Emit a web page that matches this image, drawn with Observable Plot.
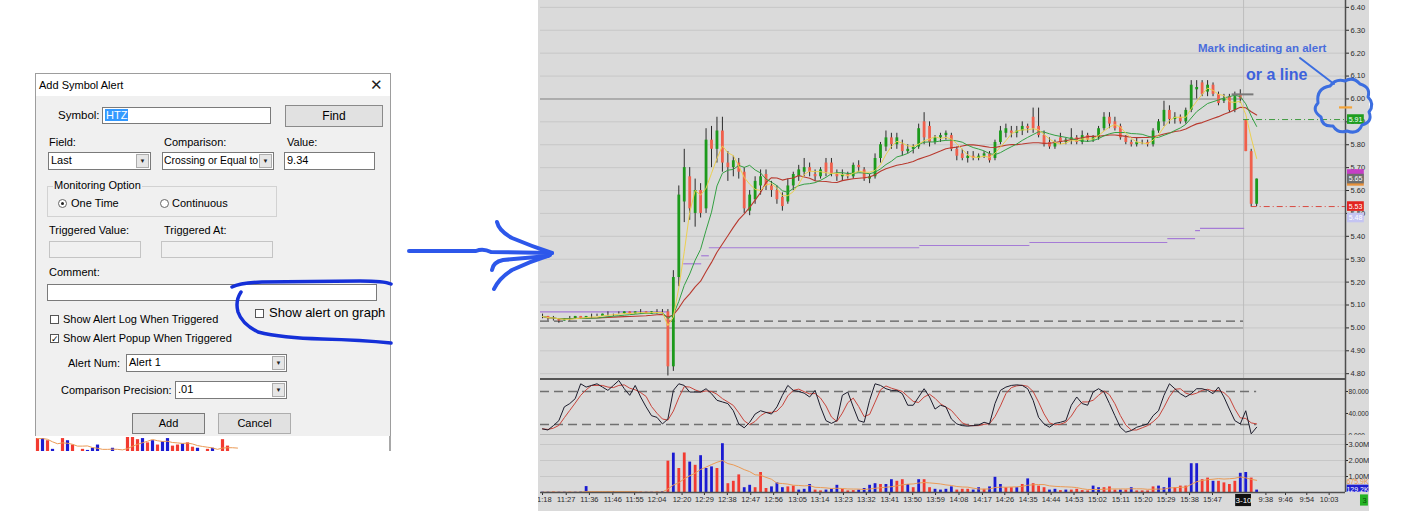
<!DOCTYPE html>
<html>
<head>
<meta charset="utf-8">
<script src="https://cdn.jsdelivr.net/npm/d3@7"></script>
<script src="https://cdn.jsdelivr.net/npm/@observablehq/plot@0.6"></script>
<style>
  body{margin:0;width:1420px;height:511px;position:relative;overflow:hidden;background:#fff;font-family:"Liberation Sans",Arial,sans-serif;}
  .a{position:absolute;}
  #dlg{left:35px;top:73px;width:354px;height:362px;background:#f0f0f0;border:1px solid #9d9d9d;font-size:11px;color:#000;}
  #dlg .t{left:0;top:0;width:354px;height:22px;background:#fff;}
  #dlg .t span{position:absolute;left:3px;top:5px;}
  #dlg .x{right:7px;top:2px;font-size:15px;color:#222;}
  .l{white-space:nowrap;line-height:13px;}
  .in{background:#fff;border:1px solid #7a7a7a;box-sizing:border-box;line-height:15px;padding-left:2px;white-space:nowrap;overflow:hidden;}
  .in .hl{background:#3399ff;color:#fff;padding:0 1px;}
  .dis{background:#f0f0f0;border:1px solid #c4c4c4;box-sizing:border-box;}
  .btn{background:#e1e1e1;border:1px solid #adadad;box-sizing:border-box;text-align:center;}
  .arr{position:absolute;right:1px;top:1px;bottom:1px;width:13px;background:#e6e6e6;border:1px solid #acacac;box-sizing:border-box;font-size:6px;text-align:center;line-height:12px;color:#222;}
  .cb{width:9px;height:9px;border:1px solid #555;background:#fff;box-sizing:border-box;font-size:9px;line-height:8px;text-align:center;}
  .rb{width:9px;height:9px;border:1px solid #666;border-radius:50%;background:#fff;box-sizing:border-box;}
  .rb i{position:absolute;left:2px;top:2px;width:3px;height:3px;border-radius:50%;background:#222;}
  .grp{border:1px solid #d2d2d2;box-sizing:border-box;}
  #strip{left:35px;top:436px;width:354px;height:15px;background:#fff;border-right:2px solid #a8a8a8;}
  #chart{left:538px;top:0;width:831px;height:511px;background:#dadada;}
  #chart svg{display:block;}
  #ink{left:0;top:0;pointer-events:none;}
</style>
</head>
<body>

<div id="dlg" class="a">
  <div class="a t"><span>Add Symbol Alert</span></div>
  <div class="a x">✕</div>
  <div class="a l" style="left:22px;top:35px;font-size:11.5px">Symbol:</div>
  <div class="a in" style="left:66px;top:33px;width:169px;height:17px"><span class="hl">HTZ</span></div>
  <div class="a btn" style="left:249px;top:31px;width:98px;height:22px;line-height:20px;font-size:12px;border-color:#8a8a8a">Find</div>

  <div class="a l" style="left:13px;top:62px">Field:</div>
  <div class="a l" style="left:128px;top:62px">Comparison:</div>
  <div class="a l" style="left:251px;top:62px">Value:</div>
  <div class="a in" style="left:12px;top:78px;width:103px;height:18px">Last<div class="arr">▼</div></div>
  <div class="a in" style="left:126px;top:78px;width:112px;height:18px;font-size:10.4px;padding-left:1px">Crossing or Equal to<div class="arr">▼</div></div>
  <div class="a in" style="left:248px;top:78px;width:91px;height:18px">9.34</div>

  <div class="a grp" style="left:11px;top:112px;width:230px;height:31px"></div>
  <div class="a l" style="left:17px;top:105px;background:#f0f0f0;padding:0 1px">Monitoring Option</div>
  <div class="a rb" style="left:22px;top:125px"><i></i></div>
  <div class="a l" style="left:35px;top:123px">One Time</div>
  <div class="a rb" style="left:124px;top:125px"></div>
  <div class="a l" style="left:136px;top:123px">Continuous</div>

  <div class="a l" style="left:13px;top:150px">Triggered Value:</div>
  <div class="a l" style="left:128px;top:150px">Triggered At:</div>
  <div class="a dis" style="left:13px;top:167px;width:92px;height:17px"></div>
  <div class="a dis" style="left:125px;top:167px;width:112px;height:17px"></div>

  <div class="a l" style="left:13px;top:192px">Comment:</div>
  <div class="a in" style="left:11px;top:210px;width:330px;height:17px"></div>

  <div class="a cb" style="left:219px;top:235px"></div>
  <div class="a l" style="left:233px;top:232px;font-size:13px">Show alert on graph</div>

  <div class="a cb" style="left:14px;top:241px"></div>
  <div class="a l" style="left:27px;top:239px">Show Alert Log When Triggered</div>
  <div class="a cb" style="left:14px;top:260px">✓</div>
  <div class="a l" style="left:27px;top:258px">Show Alert Popup When Triggered</div>

  <div class="a l" style="left:32px;top:283px">Alert Num:</div>
  <div class="a in" style="left:90px;top:280px;width:161px;height:18px">Alert 1<div class="arr">▼</div></div>
  <div class="a l" style="left:25px;top:310px">Comparison Precision:</div>
  <div class="a in" style="left:139px;top:307px;width:112px;height:18px">.01<div class="arr">▼</div></div>

  <div class="a btn" style="left:96px;top:339px;width:73px;height:21px;line-height:19px;border-color:#7a7a7a">Add</div>
  <div class="a btn" style="left:182px;top:339px;width:73px;height:21px;line-height:19px">Cancel</div>
</div>

<div id="strip" class="a"></div>
<div id="chart" class="a"></div>

<svg id="ink" class="a" width="1420" height="511">
  <g fill="none" stroke-linecap="round" stroke-linejoin="round">
    <!-- hand drawn ring round the check box -->
    <path d="M232,287 Q240,283 262,282 L360,281 Q384,281 391,284" stroke="#1530d8" stroke-width="3.5"/>
    <path d="M241,292 Q235,301 238,312 Q242,324 258,332 Q282,338 322,339 Q362,340 391,343" stroke="#1530d8" stroke-width="3.5"/>
    <!-- arrow -->
    <g stroke="#2d57ea" stroke-width="4">
      <path d="M409,251 L476,251 Q483,248 491,252 L552,253"/>
      <path d="M497,222 Q499,231 512,238 Q531,246 552,253"/>
      <path d="M494,289 Q499,278 512,270 Q531,261 550,255"/>
      <path d="M492,270 Q493,262 503,260 L548,256"/>
    </g>
    <!-- cloud and pointer -->
    <path d="M1300,58 L1334,84" stroke="#3c6ee0" stroke-width="2"/>
    <path d="M1330,86 Q1336,78 1345,81 Q1353,76 1360,84 Q1371,87 1368,97 Q1375,104 1369,112 Q1373,122 1362,125 Q1358,135 1347,131 Q1338,134 1333,126 Q1322,127 1321,117 Q1311,110 1318,103 Q1316,88 1330,86 Z" stroke="#3c6ee0" stroke-width="3"/>
  </g>
  <text x="1198" y="52" fill="#4a6ddc" font-size="11.5" font-weight="bold" font-family="Liberation Sans, Arial">Mark indicating an alert</text>
  <text x="1246" y="80" fill="#3d62dc" font-size="16" font-weight="bold" font-family="Liberation Sans, Arial">or a line</text>
</svg>

<script>
// ---- price bars (one per slot) ----
const open = [5.05,5.05,5.04,5.04,5.03,5.04,5.04,5.05,5.04,5.05,5.05,5.05,5.06,5.06,5.06,5.06,5.07,5.06,5.07,5.07,5.06,5.07,5.07,
  5.07,4.83,5.22,5.55,5.66,5.50,5.60,5.52,5.82,5.78,5.86,5.72,5.70,5.72,5.68,5.51,5.56,5.62,5.67,5.62,5.60,5.57,5.55,5.62,5.66,5.68,5.70,5.67,5.66,5.72,5.72,5.67,5.66,5.67,5.66,5.71,5.69,5.65,5.66,5.74,5.79,5.83,5.80,
  5.80,5.77,5.78,5.79,5.90,5.88,5.81,5.83,5.84,5.84,5.78,5.76,5.74,5.75,5.74,5.75,5.76,5.74,5.81,5.85,5.86,5.85,5.86,5.88,5.92,5.88,5.84,5.81,5.79,5.83,5.81,5.82,5.83,5.81,5.84,5.82,5.83,5.87,5.92,5.90,5.88,5.83,5.81,5.80,5.81,
  5.81,5.80,5.86,5.90,5.95,5.91,5.92,5.90,5.95,6.04,6.07,6.03,6.06,6.02,5.99,6.01,5.95,6.02,
  5.91,5.77,5.54];
const high = [5.06,5.05,5.05,5.04,5.04,5.05,5.05,5.05,5.05,5.06,5.06,5.06,5.07,5.06,5.07,5.07,5.07,5.07,5.08,5.07,5.07,5.08,5.08,
  5.08,5.25,5.62,5.78,5.70,5.65,5.63,5.87,5.88,5.92,5.92,5.77,5.75,5.74,5.70,5.60,5.66,5.69,5.69,5.64,5.62,5.59,5.65,5.68,5.71,5.74,5.72,5.69,5.70,5.74,5.74,5.69,5.69,5.68,5.72,5.73,5.70,5.67,5.76,5.81,5.86,5.85,5.85,
  5.82,5.80,5.80,5.89,5.94,5.90,5.84,5.85,5.86,5.85,5.79,5.78,5.77,5.77,5.76,5.77,5.77,5.82,5.88,5.89,5.88,5.88,5.90,5.89,5.96,5.96,5.86,5.83,5.82,5.85,5.83,5.87,5.84,5.86,5.85,5.84,5.88,5.94,5.94,5.92,5.89,5.84,5.82,5.83,5.82,
  5.82,5.87,5.91,5.99,5.97,5.94,5.93,5.96,6.08,6.08,6.08,6.08,6.07,6.03,6.02,6.02,6.03,6.04,
  5.91,5.78,5.65];
const low = [5.04,5.03,5.03,5.02,5.03,5.03,5.04,5.04,5.04,5.04,5.05,5.05,5.05,5.05,5.06,5.06,5.06,5.06,5.06,5.06,5.06,5.06,5.06,
  4.79,4.81,5.18,5.46,5.47,5.44,5.48,5.50,5.70,5.72,5.68,5.64,5.66,5.65,5.50,5.49,5.54,5.58,5.60,5.57,5.54,5.51,5.54,5.60,5.64,5.66,5.66,5.64,5.65,5.66,5.66,5.64,5.64,5.65,5.65,5.68,5.64,5.63,5.65,5.72,5.77,5.78,5.78,
  5.75,5.76,5.76,5.78,5.80,5.79,5.80,5.81,5.82,5.77,5.73,5.73,5.72,5.73,5.73,5.74,5.72,5.73,5.80,5.83,5.83,5.83,5.84,5.85,5.85,5.83,5.79,5.78,5.78,5.80,5.80,5.80,5.80,5.80,5.81,5.81,5.82,5.86,5.87,5.86,5.82,5.80,5.79,5.79,5.80,
  5.79,5.79,5.85,5.88,5.89,5.89,5.89,5.89,5.94,6.00,6.01,6.01,6.01,5.97,5.98,5.94,5.94,5.98,
  5.77,5.53,5.53];
const close = [5.05,5.04,5.04,5.03,5.04,5.04,5.05,5.04,5.05,5.05,5.05,5.06,5.06,5.06,5.06,5.07,5.06,5.07,5.07,5.06,5.07,5.07,5.07,
  4.83,5.22,5.58,5.70,5.52,5.60,5.50,5.82,5.78,5.86,5.72,5.70,5.73,5.68,5.52,5.58,5.64,5.66,5.62,5.60,5.56,5.53,5.62,5.67,5.69,5.70,5.68,5.66,5.69,5.68,5.67,5.66,5.67,5.66,5.71,5.70,5.65,5.66,5.74,5.80,5.83,5.80,5.83,
  5.77,5.78,5.79,5.87,5.83,5.81,5.83,5.84,5.85,5.78,5.75,5.74,5.75,5.74,5.75,5.76,5.73,5.81,5.86,5.87,5.85,5.86,5.88,5.87,5.87,5.84,5.80,5.79,5.81,5.81,5.82,5.83,5.81,5.84,5.82,5.83,5.87,5.92,5.89,5.87,5.83,5.81,5.80,5.81,5.81,
  5.80,5.86,5.90,5.95,5.91,5.92,5.90,5.95,6.06,6.05,6.02,6.06,6.02,5.98,6.00,5.95,6.01,6.00,
  5.77,5.54,5.65];

// stochastic %K
const stochK = [12,10,18,27,52,58,67,94,88,91, 94,88,82,91,100,85,73,91,70,52, 36,33,21,30,82,94,91,79,79,79,
  85,76,64,61,58,45,21,14,24,39, 45,42,39,52,73,91,82,80,77,70, 82,52,27,22,27,73,79,52,27,24,
  64,94,91,85,82,82,76,55,55,70, 85,70,48,55,52,30,21,18,17,18, 19,24,21,58,82,88,91,92,91,85,
  64,33,21,15,22,24,27,55,70,58, 55,79,85,79,58,36,15,6,9,15, 18,21,36,45,73,94,85,76,70,76,
  85,85,82,76,88,70,48,27,21,45, 3,15];

// volume (millions) and side: b = blue, r = red
const volume = [0.02,0.02,0.03,0.02,0.02,0.02,0.02,0.03,0.37,0.02, 0.02,0.02,0.03,0.06,0.02,0.02,0.02,0.02,0.03,0.02, 0.02,0.03,0.05,
  1.96,2.46,1.5,2.47,1.9,1.7,2.3,1.5,1.6,1.5, 3.05,0.55,0.7,1.1,0.3,0.45,0.3,1.25,0.25,0.35,
  0.6,0.3,0.35,0.4,0.15,0.2,0.5,0.15,0.1,0.15, 0.2,0.45,0.2,0.1,0.12,0.15,0.25,0.45,0.55,0.5, 0.5,0.8,0.7,0.8,0.5,0.3,0.8,
  0.8,0.3,0.2,0.15,0.2,0.35,0.15,0.2,0.2,0.15, 0.3,0.2,0.35,0.95,0.5,0.3,0.3,0.3,0.5,0.85,
  0.55,0.4,0.3,0.15,0.2,0.12,0.15,0.15,0.2,0.12, 0.1,0.4,0.3,0.3,0.35,0.15,0.15,0.15,0.3,0.1,
  0.1,0.1,0.35,0.4,0.3,0.9,0.3,0.4,0.4,1.8, 1.8,0.8,0.9,0.7,0.7,0.6,0.5,0.7,1.2,1.25, 0.9,0.15];
const volSide = ["bbrbbrbbbr","brbbrbbbrb","brb",
  "rbrrbrbbbr","brrrbbrrrb","bbrrbbbrrb","bbrrrbbbbr","bbrrbrb",
  "rrbbbbrrrb","brbbbrrbrb","rrrbbrbrrr","rbbrrrbrbr","rrrbbbrrrb","brrbrrrrbb","rb"].join("").split("");

// time axis
const tickLabels = ["11:18","11:27","11:36","11:46","11:55","12:04","12:20","12:29","12:38","12:47","12:56","13:05","13:14","13:23","13:32","13:41","13:50",
  "13:59","14:08","14:17","14:26","14:35","14:44","14:53","15:02","15:11","15:20","15:29","15:38","15:47","9:38","9:46","9:54","10:03"];
const tickPos = [0,4.35,8.6,12.9,16.9,21.0,25.6,29.7,33.9,38.2,42.4,46.8,50.9,55.2,59.4,63.7,67.9,
  72.1,76.4,80.7,84.8,89.1,93.3,97.5,101.8,106.1,110.2,114.4,118.7,122.9,132.7,136.3,140.2,144.3];
const dayLabel = "3-10";
const dayBreak = 128.6;

// levels drawn on the price panel
const priceTicks = [4.8,4.9,5.0,5.1,5.2,5.3,5.4,5.5,5.6,5.7,5.8,5.9,6.0,6.1,6.2,6.3,6.4];
const keyLevels = [6.0, 5.0];
const dashLevel = 5.03;
const vwapFrom = [-0.37,25.9,29.2,30.6,69.2,89.4,114.7,119.8,120.7];
const vwapTo   = [23.1,29.2,30.6,69.2,89.4,114.7,119.8,120.7,128.8];
const vwapVal  = [5.07,5.28,5.315,5.35,5.36,5.373,5.39,5.425,5.435];
const alertLevel = 5.91;
const lastLevel = 5.53, lastLowBar = 130;
const prevClose = 6.02, prevCloseFrom = 126.5, prevCloseTo = 130.5;
const alertMark = 5.963;
const markerVal  = [5.67, 5.64, 5.65, 5.91, 5.53, 5.48];
const markerKind = ["study1","study2","study3","alert","last","level"];
const markerShown = ["study3","alert","last","level"];

// stochastic / volume axes
const stochTicks = [0, 40, 80];
const stochBands = [80, 20];
const volTicks = [1, 2, 3];
const volLabelVal = [0.66, 0.2];
const volLabelText = ["675.9K", "129.2K"];
const barCountLabel = "3";

// strip of bars under the dialog
const stripVol = [12,12,10,2,0,12,10,6,0,2,1,3,6,0,0,3,0,0,13,13,11,12,8,10,6,9,12,5,6,7,8,4,3,0,2,3,0,11,5,0,0];
const stripSide = "rbrbbrbrrrbbbbbbbbrrrbrbrbbrrbrrbbrbbrrrr".split("");

// ------------------------------------------------------------
const xMin = -0.37, xMax = 147.3;
const bars = open.map((o, i) => ({i, open: o, high: high[i], low: low[i], close: close[i]}));
const vwapSegs = vwapVal.map((v, k) => ({v, from: vwapFrom[k], to: vwapTo[k]}));
const tickText = new Map(tickPos.map((p, k) => [p, tickLabels[k]]));
const markerColor = {study1: "#c63fc6", study2: "#e8913a", study3: "#6e6e6e", alert: "#1f9e1f", last: "#e2231f", level: "#c4c4f2"};

const base = {
  width: 831,
  marginLeft: 2,
  marginRight: 24,
  color: {type: "identity"},
  style: {background: "transparent", overflow: "hidden", fontFamily: "Liberation Sans, Arial", fontSize: "7.5px", color: "#2a2a2a"}
};
const frameRight = Plot.ruleX([xMax], {stroke: "#4d4d4d", strokeWidth: 1.5});
const dayRule = Plot.ruleX([dayBreak], {stroke: "#bdbdbd"});

const price = Plot.plot({
  ...base,
  height: 378, marginTop: 0, marginBottom: 0,
  x: {domain: [xMin, xMax], axis: null},
  y: {domain: [4.779, 6.43], axis: "right", ticks: priceTicks, tickFormat: d => d.toFixed(2), tickSize: 3, tickPadding: 2, label: null},
  marks: [
    Plot.ruleY(priceTicks, {stroke: "#c7c7c7"}),
    dayRule,
    Plot.ruleY(keyLevels, {x1: xMin, x2: dayBreak, stroke: "#a0a0a0", strokeWidth: 1.5}),
    Plot.ruleY([dashLevel], {x1: xMin, x2: dayBreak, stroke: "#5c5c5c", strokeWidth: 1.3, strokeDasharray: "9,5"}),
    Plot.ruleY(vwapSegs, {y: "v", x1: "from", x2: "to", stroke: "#a57bd6", strokeWidth: 1.2}),
    Plot.ruleX(bars, {x: "i", y1: "low", y2: "high", stroke: "#2b2b2b", strokeWidth: 1}),
    Plot.ruleX(bars, {x: "i", y1: "open", y2: "close", stroke: d => d.close >= d.open ? "#1c9a1c" : "#f0604c", strokeWidth: 2.8}),
    Plot.lineY(bars, Plot.windowY({k: 18, anchor: "end"}, {x: "i", y: "close", stroke: "#b8392e", strokeWidth: 1.1})),
    Plot.lineY(bars, Plot.windowY({k: 9, anchor: "end"}, {x: "i", y: "close", stroke: "#34a043", strokeWidth: 1})),
    Plot.lineY(bars, Plot.windowY({k: 4, anchor: "end"}, {x: "i", y: "close", stroke: "#ecd050", strokeWidth: 1})),
    Plot.ruleY([prevClose], {x1: prevCloseFrom, x2: prevCloseTo, stroke: "#7a7a7a", strokeWidth: 2}),
    Plot.ruleY([alertLevel], {x1: dayBreak, x2: xMax, stroke: "#3f9a3f", strokeDasharray: "6,3,1,3"}),
    Plot.ruleY([lastLevel], {x1: lastLowBar, x2: xMax, stroke: "#d84a40", strokeDasharray: "6,3,1,3"}),
    frameRight,
    Plot.ruleY([alertMark], {x1: xMax - 1.1, x2: xMax + 1.3, stroke: "#f3a43a", strokeWidth: 2.2}),
    ...markerVal.flatMap((v, k) => {
      const m = [{v, kind: markerKind[k]}];
      const box = Plot.rect(m, {x1: xMax + 0.37, x2: xMax + 3.45, y1: d => d.v - 0.021, y2: d => d.v + 0.021, fill: d => markerColor[d.kind]});
      if (!markerShown.includes(markerKind[k])) return [box];
      return [box, Plot.text(m, {x: xMax, dx: 10, y: "v", text: d => d.v.toFixed(2), fill: "white", fontSize: 7})];
    })
  ]
});

const stoch = Plot.plot({
  ...base,
  height: 57, marginTop: 0, marginBottom: 0,
  style: {...base.style, fontSize: "6.6px"},
  x: {domain: [xMin, xMax], axis: null},
  y: {domain: [0, 103.6], axis: "right", ticks: stochTicks, tickFormat: d => d.toFixed(3), tickSize: 2, tickPadding: 1, label: null},
  marks: [
    dayRule,
    Plot.ruleY(stochBands, {x1: xMin, x2: lastLowBar + 1, stroke: "#707070", strokeWidth: 1.6, strokeDasharray: "9,5"}),
    Plot.lineY(stochK, Plot.windowY({k: 3, anchor: "end"}, {x: (d, i) => i, y: d => d, stroke: "#c8453c", strokeWidth: 1})),
    Plot.lineY(stochK, {x: (d, i) => i, y: d => d, stroke: "#1c1c2c", strokeWidth: 1}),
    Plot.ruleY([103.6], {stroke: "#555", strokeWidth: 3}),
    Plot.ruleY([0], {stroke: "#444", strokeWidth: 1.6}),
    frameRight
  ]
});

const vol = Plot.plot({
  ...base,
  height: 76, marginTop: 0, marginBottom: 19,
  x: {domain: [xMin, xMax], ticks: tickPos, tickFormat: d => tickText.get(d), tickSize: 3, tickPadding: 1, label: null},
  y: {domain: [0, 3.5625], axis: "right", ticks: volTicks, tickFormat: d => d.toFixed(2) + "M", tickSize: 2, tickPadding: 1, label: null},
  marks: [
    Plot.ruleY(volTicks, {stroke: "#c7c7c7"}),
    dayRule,
    Plot.ruleX(volume, {x: (d, i) => i, y1: 0, y2: d => d, stroke: (d, i) => volSide[i] === "b" ? "#1b1bd2" : "#f23a30", strokeWidth: 2.8}),
    Plot.lineY(volume, Plot.windowY({k: 10, anchor: "end"}, {x: (d, i) => i, y: d => d, stroke: "#eb9a55", strokeWidth: 1})),
    Plot.ruleY([0], {stroke: "#505050", strokeWidth: 1.5}),
    frameRight,
    Plot.text([volLabelText[0]], {x: xMax, dx: 12, y: volLabelVal[0], text: d => d, fill: "#e8924a", fontSize: 7}),
    Plot.rect([volLabelText[1]], {x1: xMax + 0.3, x2: xMax + 4.3, y1: volLabelVal[1] - 0.2, y2: volLabelVal[1] + 0.26, fill: "#1f1fd0"}),
    Plot.text([volLabelText[1]], {x: xMax, dx: 12, y: volLabelVal[1], text: d => d, fill: "white", fontSize: 7}),
    Plot.rect([dayLabel], {x1: dayBreak - 1.45, x2: dayBreak + 1.45, y1: -0.12, y2: -0.88, fill: "#111"}),
    Plot.text([dayLabel], {x: dayBreak, y: -0.5, text: d => d, fill: "white", fontSize: 8}),
    Plot.rect([barCountLabel], {x1: xMax + 2.75, x2: xMax + 4.2, y1: -0.15, y2: -0.85, fill: "#25b325"}),
    Plot.text([barCountLabel], {x: xMax + 3.5, y: -0.5, text: d => d, fill: "#0a4a0a", fontSize: 7.5})
  ]
});

const chart = d3.select("#chart");
chart.append(() => price);
chart.append(() => stoch);
chart.append(() => vol);

const strip = Plot.plot({
  width: 210, height: 15,
  marginLeft: 0, marginRight: 0, marginTop: 1, marginBottom: 0,
  color: {type: "identity"},
  x: {domain: [-0.4, 41.6], axis: null},
  y: {domain: [0, 13], axis: null},
  style: {background: "transparent"},
  marks: [
    Plot.ruleX(stripVol, {x: (d, i) => i, y1: 0, y2: d => d, stroke: (d, i) => stripSide[i] === "b" ? "#1b1bd2" : "#f23a30", strokeWidth: 3.2}),
    Plot.lineY(stripVol, Plot.windowY({k: 6, anchor: "end"}, {x: (d, i) => i, y: d => d, stroke: "#eb9a55", strokeWidth: 1}))
  ]
});
d3.select("#strip").append(() => strip);
</script>
</body>
</html>
